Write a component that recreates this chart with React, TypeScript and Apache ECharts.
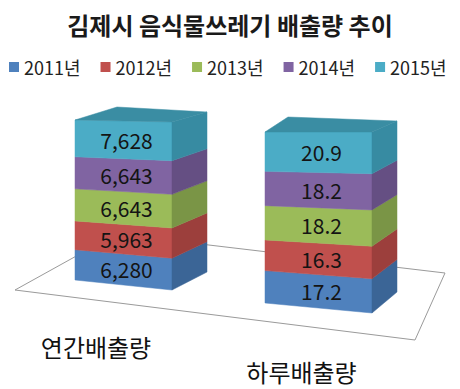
import React, { useEffect, useRef } from "react";
import * as echarts from "echarts";

const chartTitle = "김제시 음식물쓰레기 배출량 추이";
const years = ["2011년", "2012년", "2013년", "2014년", "2015년"];
const categories = ["연간배출량", "하루배출량"];
const annual = [6280, 5963, 6643, 6643, 7628];
const daily = [17.2, 16.3, 18.2, 18.2, 20.9];

const frontColors = ["#4F81BD", "#C0504D", "#9BBB59", "#8064A2", "#4BACC6"];
const sideColors = ["#3B6596", "#9C3F3C", "#7A9546", "#654F83", "#378BA2"];
const topColor = "#3A8DA3";
const FONT = '"Noto Sans CJK KR", "Noto Sans", sans-serif';

// perspective layout for each bar
const persp = [
  { grid: { left: 75, top: 120, width: 97, height: 160 }, tiltBottom: 10, tiltTop: 2, backDx: 35, backDy: -8, backLeftDx: 42, backLeftDy: -13, labelPad: 55, margin: 54 },
  { grid: { left: 265, top: 132, width: 107, height: 171 }, tiltBottom: 10, tiltTop: 0, backDx: 25, backDy: -11, backLeftDx: 23, backLeftDy: -15, labelPad: 34, margin: 56 },
];

const fmt = (v: number) => (Number.isInteger(v) ? v.toLocaleString("en-US") : v.toFixed(1));

function buildStack(values: number[]) {
  const total = values.reduce((a, b) => a + b, 0);
  let acc = 0;
  return values.map((v) => {
    const s = (acc / total) * 100;
    acc += v;
    const e = (acc / total) * 100;
    return [0, s, e, v];
  });
}

export default function App() {
  const ref = useRef<HTMLDivElement>(null);
  useEffect(() => {
    if (!ref.current) return;
    const chart = echarts.init(ref.current, null, { renderer: "svg" });
    const stacks = [buildStack(annual), buildStack(daily)];
    const series: any[] = [];
    stacks.forEach((stack, gi) => {
      const p = persp[gi];
      stack.forEach((row, i) => {
        series.push({
          type: "custom",
          name: years[i],
          xAxisIndex: gi,
          yAxisIndex: gi,
          itemStyle: { color: frontColors[i] },
          encode: { x: 0, y: [1, 2] },
          data: [row],
          renderItem: (params: any, api: any) => {
            const s = api.value(1);
            const e = api.value(2);
            const raw = api.value(3);
            const c = api.coord([api.value(0), 0]);
            const bw = api.size([1, 0])[0];
            const xL = c[0] - bw / 2;
            const xR = c[0] + bw / 2;
            const yS = api.coord([0, s])[1];
            const yE = api.coord([0, e])[1];
            const tilt = (v: number) => p.tiltBottom + ((p.tiltTop - p.tiltBottom) * v) / 100;
            const children: any[] = [
              {
                type: "polygon",
                shape: { points: [[xL, yS], [xR, yS + tilt(s)], [xR, yE + tilt(e)], [xL, yE]] },
                style: { fill: frontColors[i], stroke: frontColors[i], lineWidth: 0.5 },
              },
              {
                type: "polygon",
                shape: {
                  points: [
                    [xR, yS + tilt(s)],
                    [xR + p.backDx, yS + p.backDy],
                    [xR + p.backDx, yE + p.backDy],
                    [xR, yE + tilt(e)],
                  ],
                },
                style: { fill: sideColors[i], stroke: sideColors[i], lineWidth: 0.5 },
              },
            ];
            if (i === stack.length - 1) {
              children.push({
                type: "polygon",
                shape: {
                  points: [
                    [xL, yE],
                    [xR, yE + tilt(e)],
                    [xR + p.backDx, yE + p.backDy],
                    [xL + p.backLeftDx, yE + p.backLeftDy],
                  ],
                },
                style: { fill: topColor, stroke: topColor, lineWidth: 0.5 },
              });
            }
            children.push({
              type: "text",
              style: {
                text: fmt(raw),
                x: (xL + xR) / 2 + 3,
                y: (yS + yE) / 2 + (tilt(s) + tilt(e)) / 4,
                align: "center",
                verticalAlign: "middle",
                font: `21px ${FONT}`,
                fill: "#141414",
              },
            });
            return { type: "group", children };
          },
        });
      });
    });

    chart.setOption({
      animation: false,
      backgroundColor: "#ffffff",
      title: {
        text: chartTitle,
        left: "center",
        top: 7,
        textStyle: { fontSize: 24, fontWeight: "bold", color: "#1a1a1a", fontFamily: FONT },
      },
      legend: {
        data: years,
        top: 53,
        left: 4,
        width: 456,
        icon: "rect",
        itemWidth: 10,
        itemHeight: 10,
        itemGap: 20,
        textStyle: { fontSize: 18, color: "#222", fontFamily: FONT },
      },
      graphic: [
        {
          type: "polygon",
          z: 0,
          shape: { points: [[15, 290], [116, 234], [445, 273], [415, 340]] },
          style: { fill: "none", stroke: "#9a9a9a", lineWidth: 1 },
        },
      ],
      grid: persp.map((p) => ({ ...p.grid })),
      xAxis: persp.map((p, gi) => ({
        type: "category",
        gridIndex: gi,
        data: [categories[gi]],
        axisLine: { show: false },
        axisTick: { show: false },
        splitLine: { show: false },
        axisLabel: {
          show: true,
          margin: p.margin,
          fontSize: 24,
          color: "#111",
          fontFamily: FONT,
          padding: [0, p.labelPad, 0, 0],
        },
      })),
      yAxis: persp.map((p, gi) => ({
        type: "value",
        gridIndex: gi,
        min: 0,
        max: 100,
        show: false,
      })),
      series,
    });
    return () => chart.dispose();
  }, []);
  return (
    <div
      ref={ref}
      style={{ position: "fixed", left: 0, top: 0, width: 460, height: 389, background: "#fff" }}
    />
  );
}
